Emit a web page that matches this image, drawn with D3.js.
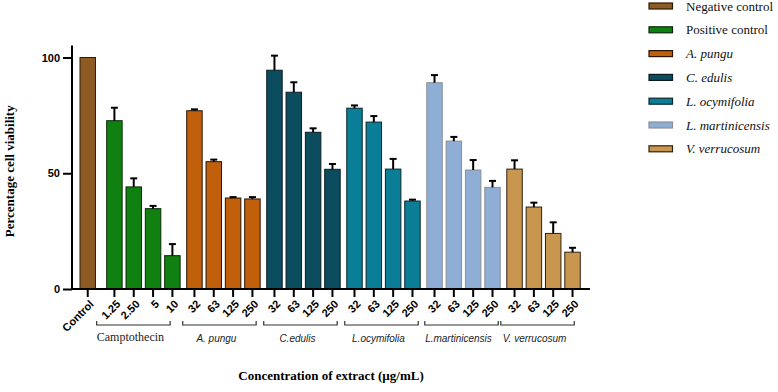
<!DOCTYPE html>
<html><head><meta charset="utf-8">
<script src="https://cdn.jsdelivr.net/npm/d3@7"></script>
<style>body{margin:0;background:#fff}svg{display:block}</style>
</head><body>
<svg id="c" width="778" height="392"></svg>
<script>
// ---- data ----
const seriesNames = ["Negative control","Positive control","A. pungu","C. edulis","L. ocymifolia","L. martinicensis","V. verrucosum"];
const seriesItalic = [false,false,true,true,true,true,true];
const groupLabels = ["", "Camptothecin","A. pungu","C.edulis","L.ocymifolia","L.martinicensis","V. verrucosum"];
const doseLabels = [["Control"],["1.25","2.50","5","10"],["32","63","125","250"],["32","63","125","250"],["32","63","125","250"],["32","63","125","250"],["32","63","125","250"]];
const negControl = [100];
const camptothecin = [72.7,44.1,34.7,14.4];
const aPungu = [77.0,55.0,39.3,38.9];
const cEdulis = [94.5,85.0,67.7,51.7];
const lOcymifolia = [78.1,72.1,51.8,38.0];
const lMartinicensis = [89.1,63.9,51.4,43.9];
const vVerrucosum = [51.8,35.4,24.0,15.9];
const errNeg = [0];
const errCampto = [5.6,3.7,1.2,5.0];
const errPungu = [0.6,0.9,0.4,0.8];
const errEdulis = [6.3,4.3,1.7,2.3];
const errOcy = [1.2,2.6,4.4,0.6];
const errMart = [3.3,1.8,4.3,2.8];
const errVerr = [3.8,1.9,4.8,1.9];
const yTicks = [0,50,100];

const means = [negControl,camptothecin,aPungu,cEdulis,lOcymifolia,lMartinicensis,vVerrucosum];
const errs = [errNeg,errCampto,errPungu,errEdulis,errOcy,errMart,errVerr];

// ---- styles ----
const fills = ["#8E5C22","#108010","#C0600C","#0B4C5E","#0A7E96","#8EAED6","#C8964E"];
const strokes = ["#2a1a08","#0a2a0a","#2a1404","#0a1c22","#0a262c","#8a8f96","#2e2210"];
const bracketShift = [0,-10,-4,-3,-2,-2,-6];

const svg = d3.select("#c");
const bold = "'Liberation Sans', Arial, sans-serif";
const serif = "'Liberation Serif', 'Times New Roman', serif";

// unit positions
const bars = [];
let u = 0;
const groupSpan = [];
means.forEach((arr, g) => {
  if (g === 1) u += 0.38; else if (g > 1) u += 0.14;
  const start = u;
  arr.forEach((v, i) => {
    bars.push({g, i, v, e: errs[g][i], label: doseLabels[g][i], u});
    u += 1;
  });
  groupSpan.push([start, u - 1]);
});

const x = d3.scaleLinear().domain([0, 1]).range([80, 99.33]);
const bw = x(0.8) - x(0);
const y = d3.scaleLinear().domain([0, 100]).range([289, 57.5]);

// bars
svg.append("g").selectAll("rect").data(bars).join("rect")
  .attr("x", d => x(d.u)).attr("y", d => y(d.v))
  .attr("width", bw).attr("height", d => y(0) - y(d.v))
  .attr("fill", d => fills[d.g]).attr("stroke", d => strokes[d.g]).attr("stroke-width", 1);

// error bars
const eg = svg.append("g").attr("stroke", "#000").attr("stroke-width", 2);
bars.filter(d => d.e > 0).forEach(d => {
  const cx = x(d.u) + bw / 2;
  eg.append("line").attr("x1", cx).attr("x2", cx).attr("y1", y(d.v)).attr("y2", y(d.v + d.e));
  eg.append("line").attr("x1", cx - 3.5).attr("x2", cx + 3.5).attr("y1", y(d.v + d.e)).attr("y2", y(d.v + d.e));
});

// y axis
const yAxis = d3.axisLeft(y).tickValues(yTicks).tickSize(9).tickPadding(3).tickSizeOuter(0);
const ya = svg.append("g").attr("transform", "translate(72,0)").call(yAxis);
ya.select(".domain").remove();
ya.append("line").attr("x1", 0).attr("x2", 0).attr("y1", y(0) + 1).attr("y2", y(105.2)).attr("stroke", "#000").attr("stroke-width", 2);
ya.selectAll(".tick line").attr("stroke-width", 2);
ya.selectAll(".tick text").attr("font-family", bold).attr("font-weight", "bold").attr("font-size", 11).attr("fill", "#000");

// x axis
const xa = svg.append("g");
xa.append("line").attr("x1", 71).attr("x2", 590).attr("y1", y(0)).attr("y2", y(0)).attr("stroke", "#000").attr("stroke-width", 2);
bars.forEach(d => {
  const cx = x(d.u) + bw / 2;
  xa.append("line").attr("x1", cx).attr("x2", cx).attr("y1", y(0)).attr("y2", y(0) + 8).attr("stroke", "#000").attr("stroke-width", 2);
  xa.append("text").attr("transform", `translate(${cx + 4},${y(0) + 13}) rotate(-45)`)
    .attr("text-anchor", "end").attr("dy", "0.35em")
    .attr("font-family", bold).attr("font-weight", "bold").attr("font-size", 11).text(d.label);
});

// brackets + group labels
groupSpan.forEach((s, g) => {
  if (g === 0) return;
  const x0 = x(s[0]) + bracketShift[g], x1 = x(s[1]) + bw + bracketShift[g];
  const by = 325;
  svg.append("path").attr("d", `M${x0},${by - 4}V${by}H${x1}V${by - 4}`)
    .attr("fill", "none").attr("stroke", "#333").attr("stroke-width", 1.2);
  const t = svg.append("text").attr("x", (x0 + x1) / 2 - 3).attr("y", g === 1 ? 341 : 342)
    .attr("text-anchor", "middle").text(groupLabels[g]);
  if (g === 1) t.attr("font-family", serif).attr("font-size", 12).attr("fill", "#222");
  else t.attr("font-family", "'Liberation Sans', Arial, sans-serif").attr("font-style", "italic").attr("font-size", 10).attr("fill", "#222");
});

// axis titles
svg.append("text").attr("transform", `translate(14,${(y(0) + y(100)) / 2 - 2}) rotate(-90)`)
  .attr("text-anchor", "middle").attr("font-family", serif).attr("font-weight", "bold").attr("font-size", 13)
  .text("Percentage cell viability");
svg.append("text").attr("x", 331).attr("y", 380).attr("text-anchor", "middle")
  .attr("font-family", serif).attr("font-weight", "bold").attr("font-size", 13)
  .text("Concentration of extract (\u00b5g/mL)");

// legend
const lg = svg.append("g");
seriesNames.forEach((n, i) => {
  const cy = 6 + i * 23.8;
  lg.append("rect").attr("x", 649).attr("y", cy - 3).attr("width", 23.5).attr("height", 6)
    .attr("fill", fills[i]).attr("stroke", strokes[i]).attr("stroke-width", 1.2);
  lg.append("text").attr("x", 686).attr("y", cy).attr("dy", "0.35em")
    .attr("font-family", serif).attr("font-size", 13).attr("fill", "#111")
    .attr("font-style", seriesItalic[i] ? "italic" : "normal").text(n);
});
</script>
</body></html>
